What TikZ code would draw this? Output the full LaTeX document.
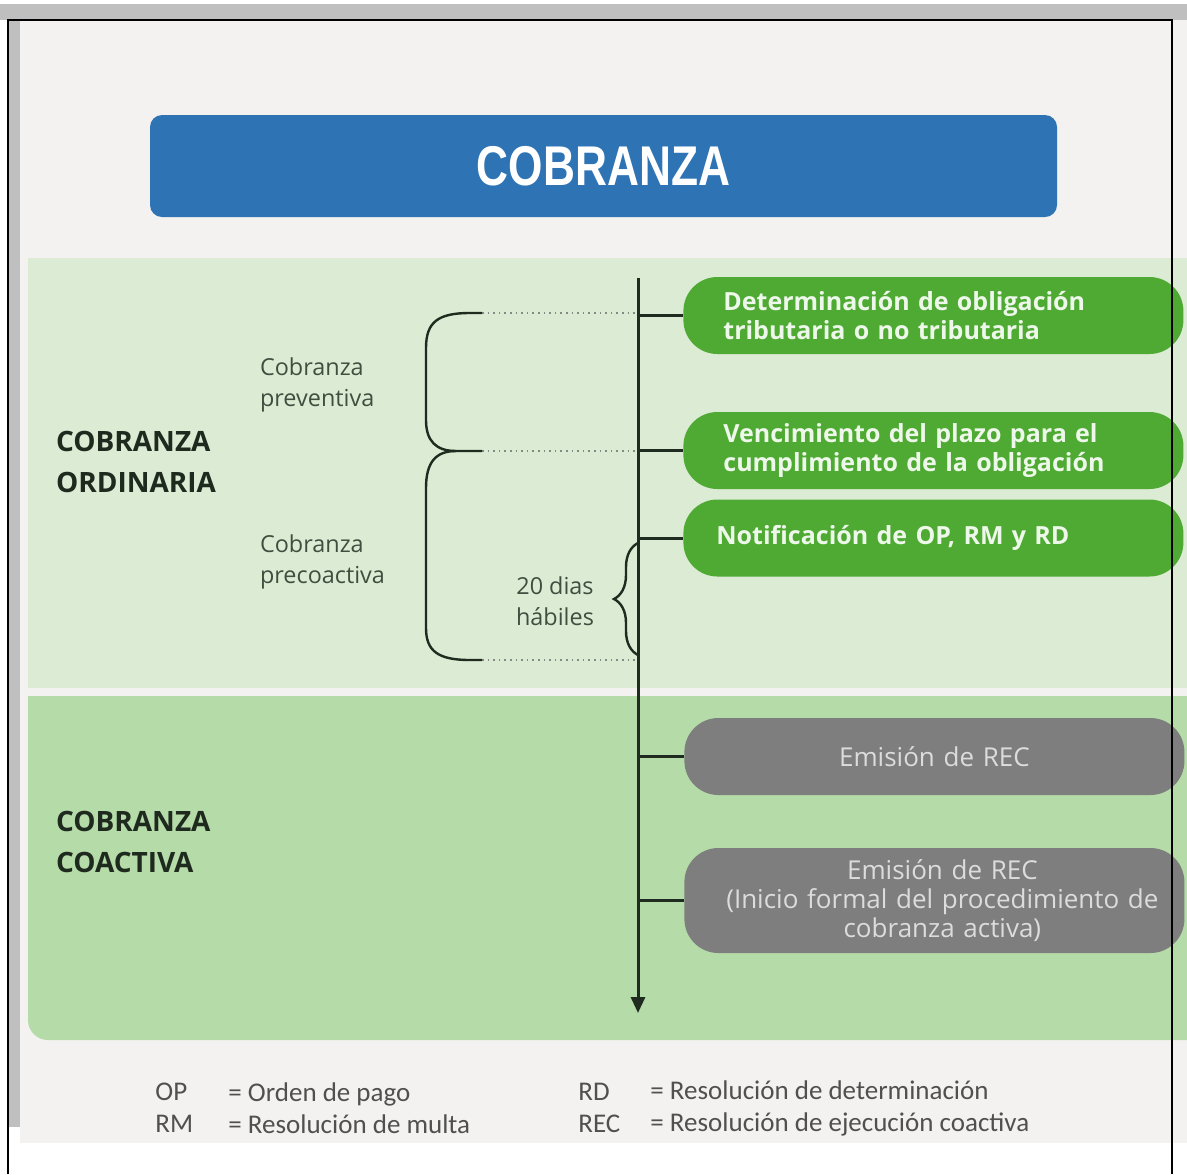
\documentclass[tikz,border=0pt]{standalone}
\usepackage{fontspec}
\setmainfont{Open Sans}
\newfontfamily\titlefont[FakeStretch=0.79]{Liberation Sans}
\newfontfamily\legendfont{Carlito}
\usetikzlibrary{positioning,decorations.pathreplacing,arrows.meta}

\definecolor{topbar}{HTML}{BFBFBF}
\definecolor{panel}{HTML}{F3F2F0}
\definecolor{titleblue}{HTML}{2E74B5}
\definecolor{ordband}{HTML}{DCEBD4}
\definecolor{coaband}{HTML}{B4DBA8}
\definecolor{boxgreen}{HTML}{4EAA32}
\definecolor{boxtext}{HTML}{EEF8EA}
\definecolor{boxgrey}{HTML}{7E7E7E}
\definecolor{greytext}{HTML}{DCDCDC}
\definecolor{lineclr}{HTML}{1E2B1E}
\definecolor{sectclr}{HTML}{1F2A1F}
\definecolor{subclr}{HTML}{3F4F3F}
\definecolor{legendclr}{HTML}{505050}

\begin{document}
\begin{tikzpicture}[x=0.5pt, y=-0.5pt,
  stage/.style={rounded corners=17pt, minimum width=250pt, minimum height=38.5pt,
    anchor=west, inner xsep=20pt, text width=210pt},
  okbox/.style={stage, fill=boxgreen, text=boxtext, align=left,
    font=\bfseries\fontsize{12.5}{14.5}\selectfont},
  recbox/.style={stage, fill=boxgrey, text=greytext, align=center,
    inner xsep=8pt, text width=234pt, font=\fontsize{13}{14.5}\selectfont},
  tick/.style={line width=1.5pt, draw=lineclr},
  guide/.style={dotted, line width=0.8pt, draw=lineclr!55},
  sectlabel/.style={anchor=west, align=left, text=sectclr,
    font=\bfseries\fontsize{14}{20.5}\selectfont},
  sublabel/.style={anchor=west, align=left, text=subclr,
    font=\fontsize{11.7}{15.5}\selectfont},
  legend/.style={anchor=west, align=left, text=legendclr, inner sep=0pt,
    font=\legendfont\fontsize{13.5}{16}\selectfont}]
  \useasboundingbox (0,0) rectangle (1187,1174);

  % page and bands
  \fill[white] (0,0) rectangle (1187,1174);
  \fill[topbar] (0,4) rectangle (1187,20);
  \fill[panel] (20,20) rectangle (1187,1143);
  \fill[topbar] (8,20) rectangle (20,1127);
  \fill[ordband] (28,258) rectangle (1187,688);
  \fill[coaband] (28,696) -- (28,1020) arc[start angle=180, end angle=90, radius=20]
    -- (1187,1040) -- (1187,696) -- cycle;

  \node[fill=titleblue, rounded corners=6pt, minimum width=453.5pt, minimum height=51pt,
    text=white, font=\titlefont\bfseries\fontsize{28}{30}\selectfont] (title) at (603.5,166) {COBRANZA};

  % timeline
  \coordinate (ttop) at (638,278);
  \coordinate (tbot) at (638,1013);
  \draw[tick, -{Triangle[length=8pt,width=7pt]}] (ttop) -- (tbot);

  \node[okbox] (det) at (683,315.5) {Determinación de obligación\\tributaria o no tributaria};
  \node[okbox] (ven) at (683,450.5) {Vencimiento del plazo para el\\cumplimiento de la obligación};
  \node[okbox, inner xsep=16.5pt, text width=217pt] (noti) at (683,538) {Notificación de OP, RM y RD};
  \node[recbox] (rec) at (684,756.5) {Emisión de REC};
  \node[recbox, minimum height=52.5pt] (recini) at (684,900.5) {\hspace*{8pt}Emisión de REC\\\hspace*{8pt}(Inicio formal del procedimiento de\\\hspace*{8pt}cobranza activa)};

  \foreach \b in {det,ven,noti,rec,recini}
    \draw[tick] (\b.west) -- (\b.west -| ttop);

  % braces
  \coordinate (brA) at (482,313);
  \coordinate (brB) at (482,451);
  \coordinate (brC) at (482,660);
  \foreach \c in {brA,brB,brC}
    \draw[guide] (\c) -- (\c -| ttop);
  \draw[line width=1.2pt, draw=lineclr] (brA) -- (470,313) .. controls (438,313) and (426,322) .. (426,348)
    -- (426,420) .. controls (426,441) and (436,451) .. (456,451) -- (brB);
  \draw[line width=1.2pt, draw=lineclr] (456,451) .. controls (436,451) and (426,462) .. (426,488)
    -- (426,628) .. controls (426,651) and (438,660) .. (470,660) -- (brC);
  \draw[line width=1.2pt, draw=lineclr, decorate, decoration={brace, amplitude=12pt}]
    (638,655) -- (638,543);

  \node[sectlabel] (ordin) at (49,462) {COBRANZA\\ORDINARIA};
  \node[sectlabel] (coact) at (49,842) {COBRANZA\\COACTIVA};
  \node[sublabel] (prev) at (253,384.5) {Cobranza\\preventiva};
  \node[sublabel] (preco) at (253,561.5) {Cobranza\\precoactiva};
  \node[sublabel, anchor=center, align=center] (dias) at (555,601) {20 dias\\hábiles};

  % legend
  \node[legend] (abbrL) at (155,1108) {OP\\RM};
  \node[legend] (defL) at (228,1108) {= Orden de pago\\= Resolución de multa};
  \node[legend] (abbrR) at (578,1108) {RD\\REC};
  \node[legend] (defR) at (650,1108) {= Resolución de determinación\\= Resolución de ejecución coactiva};

  % screenshot frame
  \draw[black, line width=1pt] (8,1174) -- (8,20) -- (1172,20) -- (1172,1174);
\end{tikzpicture}
\end{document}
